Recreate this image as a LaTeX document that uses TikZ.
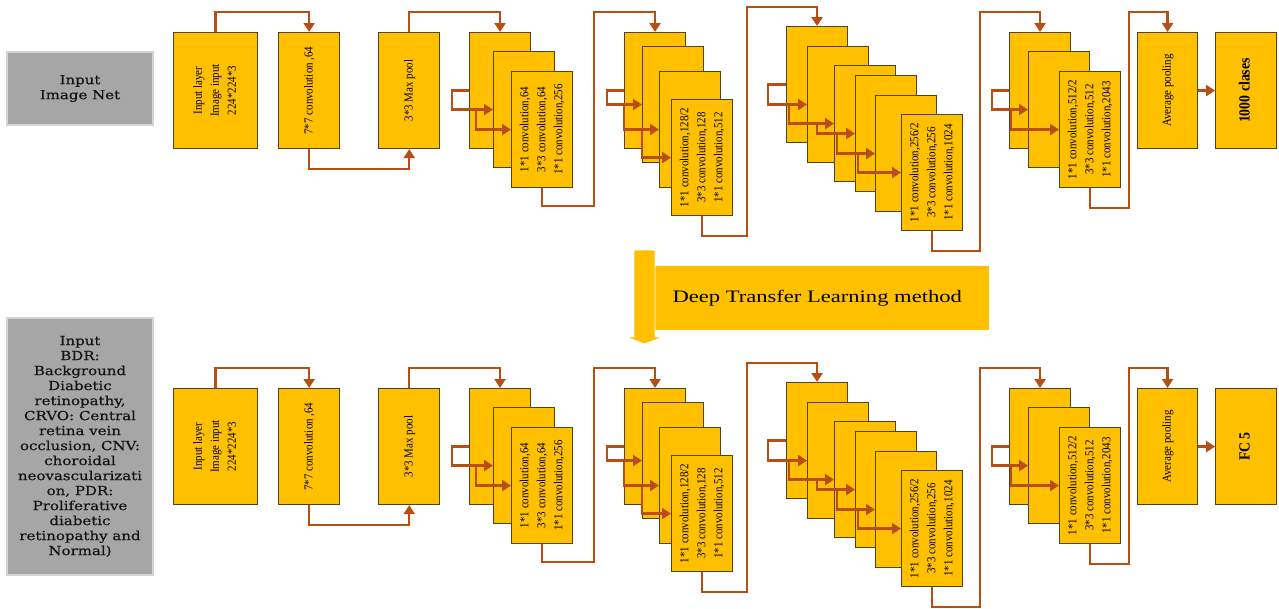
\documentclass[tikz,border=0pt]{standalone}
\usepackage{fontspec}
\usepackage{graphicx}
\usepackage{tikz}
\usetikzlibrary{positioning,calc,arrows.meta}

\definecolor{gold}{HTML}{FFC000}
\definecolor{boxline}{HTML}{504414}
\definecolor{linkcol}{HTML}{B84E14}
\definecolor{greyfill}{HTML}{A6A6A6}
\definecolor{greyline}{HTML}{D4D4D4}
\definecolor{textdark}{HTML}{141414}

\newfontfamily\boxfont[FakeStretch=0.89]{Liberation Serif}
\newfontfamily\greyfont[FakeStretch=1.2,FakeBold=0.4]{DejaVu Serif}
\newfontfamily\bandfont[FakeStretch=1.29]{Liberation Serif}

\newcommand\vtext[1]{\rotatebox{90}{\begin{tabular}{@{}c@{}}#1\end{tabular}}}

% one row of the network: #1 prefix, #2 shift, #3 last block
\newcommand\netrow[3]{%
  \begin{scope}[yshift=#2]
    \node [block, minimum width=84pt, anchor=north west] (#1in) at (173,32) {\vtext{Input layer\\Image input\\224*224*3}};
    \node [block] (#1c7) [right=20pt of #1in] {\vtext{7*7 convolution ,64}};
    \node [block] (#1mp) [right=38pt of #1c7] {\vtext{3*3 Max pool}};

    \node [block, anchor=north west] (#1s1a) at (469,32) {};
    \node [block, anchor=north west] (#1s1b) at (493,51) {};
    \node [block, anchor=north west] (#1s1c) at (511,71) {\vtext{1*1 convolution,64\\3*3 convolution,64\\1*1 convolution,256}};

    \node [block, anchor=north west] (#1s2a) at (624,32) {};
    \node [block, anchor=north west] (#1s2b) at (642,46) {};
    \node [block, anchor=north west] (#1s2c) at (659,71) {};
    \node [block, anchor=north west] (#1s2d) at (671,99) {\vtext{1*1 convolution,128/2\\3*3 convolution,128\\1*1 convolution,512}};

    \node [block, anchor=north west] (#1s3a) at (786,26) {};
    \node [block, anchor=north west] (#1s3b) at (807,46) {};
    \node [block, anchor=north west] (#1s3c) at (834,65) {};
    \node [block, anchor=north west] (#1s3d) at (855,75) {};
    \node [block, anchor=north west] (#1s3e) at (875,95) {};
    \node [block, anchor=north west] (#1s3f) at (901,114) {\vtext{1*1 convolution,256/2\\3*3 convolution,256\\1*1 convolution,1024}};

    \node [block, anchor=north west] (#1s4a) at (1009,32) {};
    \node [block, anchor=north west] (#1s4b) at (1028,51) {};
    \node [block, anchor=north west] (#1s4c) at (1059,71) {\vtext{1*1 convolution,512/2\\3*3 convolution,512\\1*1 convolution,2043}};

    \node [block, minimum width=60pt, anchor=north west] (#1avg) at (1137,32) {\vtext{Average pooling}};
    \node [block] (#1cls) [right=17pt of #1avg] {\vtext{\fontsize{15.5}{17}\selectfont\bfseries #3}};

    \draw [link] (#1in.north) -- ++(0,-20) -| (#1c7.north);
    \draw [link] (#1c7.south) -- ++(0,20) -| (#1mp.south);
    \draw [link] (#1mp.north) -- ++(0,-20) -| (#1s1a.north);
    % stage 1
    \draw [link] (#1s1a.west) -- ++(-17,0) |- (#1s1b.west);
    \draw [link] ($(#1s1a.west |- #1s1b.west)+(7,0)$) |- (#1s1c.west);
    \draw [link] (#1s1c.south) -- ++(0,18) -| (594,12) -| (#1s2a.north);
    % stage 2
    \draw [link] (#1s2a.west) -- ++(-17,0) |- (#1s2b.west);
    \draw [link] (#1s2a.west |- #1s2b.west) |- (#1s2c.west);
    \draw [link] (#1s2b.west |- #1s2c.west) |- (#1s2d.west);
    \draw [link] (#1s2d.south) -- ++(0,20) -| (747,7) -| (#1s3a.north);
    % stage 3
    \draw [link] (#1s3a.west) -- ++(-18,0) |- (#1s3b.west);
    \draw [link] ($(#1s3a.west |- #1s3b.west)+(3,0)$) |- (#1s3c.west);
    \draw [link] ($(#1s3b.west |- #1s3c.west)+(10,0)$) |- (#1s3d.west);
    \draw [link] ($(#1s3c.west |- #1s3d.west)+(3,0)$) |- (#1s3e.west);
    \draw [link] ($(#1s3d.west |- #1s3e.west)+(3,0)$) |- (#1s3f.west);
    \draw [link] (#1s3f.south) -- ++(0,20) -| (980,12) -| (#1s4a.north);
    % stage 4
    \draw [link] (#1s4a.west) -- ++(-17,0) |- (#1s4b.west);
    \draw [link] ($(#1s4a.west |- #1s4b.west)+(2,0)$) |- (#1s4c.west);
    \draw [link] (#1s4c.south) -- ++(0,20) -| (1129,12) -| (#1avg.north);
    \draw [link] (#1avg) -- (#1cls);
  \end{scope}}

\begin{document}
\begin{tikzpicture}
    [ x = 1pt, y = -1pt
    , block/.style =
      { draw = boxline, line width = 1.1pt, fill = gold, inner sep = 0pt
      , minimum width = 61pt, minimum height = 116pt
      , font = \boxfont\fontsize{12.3}{17}\selectfont }
    , link/.style =
      { draw = linkcol, line width = 2.3pt, -{Triangle[length=9pt,width=11pt]} }
    , inbox/.style =
      { draw = greyline, line width = 1.2pt, fill = greyfill, inner sep = 0pt
      , text = textdark, align = center, minimum width = 146pt
      , font = \greyfont\fontsize{12.5}{15}\selectfont }
    , band/.style =
      { fill = gold, inner sep = 0pt, minimum width = 334pt, minimum height = 64pt
      , font = \bandfont\fontsize{17.5}{20}\selectfont }
    ]
    \useasboundingbox (0,0) rectangle (1279,608);

    \node [inbox, minimum height=73pt] (imnet) at (80,88.5) {Input\\Image Net};
    \node [inbox, minimum height=257pt] (retina) at (80,446.5)
      {Input\\BDR:\\Background\\Diabetic\\retinopathy,\\CRVO: Central\\retina vein\\occlusion, CNV:\\choroidal\\neovascularizati\\on, PDR:\\Proliferative\\diabetic\\retinopathy and\\Normal)};

    \netrow{t}{0pt}{1000 clases}
    \netrow{b}{-356pt}{FC 5}

    % transfer arrow
    \node [band, anchor=west] (dtl) at (655,298) {\hspace*{-10pt}Deep Transfer Learning method};
    \fill [gold, draw=white, line width=.8pt]
      (634,250) -- (655,250) -- (655,337) -- (663,337) -- (644.5,344)
      -- (626,337) -- (634,337) -- cycle;
\end{tikzpicture}
\end{document}
